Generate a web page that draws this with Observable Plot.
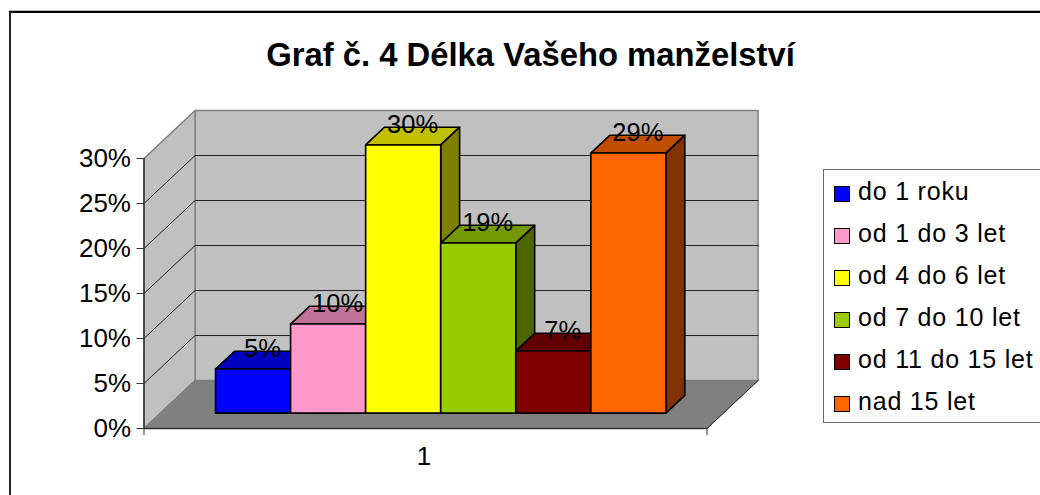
<!DOCTYPE html>
<html><head><meta charset="utf-8">
<script src="https://cdn.jsdelivr.net/npm/d3@7"></script>
<script src="https://cdn.jsdelivr.net/npm/@observablehq/plot@0.6"></script>
<style>
html,body{margin:0;padding:0;background:#fff;}
#chart{position:relative;width:1040px;height:495px;overflow:hidden;font-family:"Liberation Sans",Arial,sans-serif;color:#000;}
#frame{position:absolute;left:9px;top:11px;width:1100px;height:560px;border-left:2px solid #222;border-top:2px solid #000;box-shadow:0 -1px 0 #bbb;box-sizing:border-box;}
#title{position:absolute;left:0;top:38px;width:1061px;text-align:center;font-weight:bold;font-size:32.8px;line-height:34px;}
#legend{position:absolute;left:823px;top:169px;width:260px;height:254px;border:1.5px solid #666;box-sizing:border-box;}
.row{position:absolute;left:0;height:42px;font-size:25px;line-height:42px;white-space:nowrap;}
.sw{position:absolute;left:10px;top:15px;width:15.5px;height:15.5px;border:1.5px solid #000;box-sizing:border-box;}
.lb{position:absolute;left:34px;top:-1px;letter-spacing:0.8px;}
svg{position:absolute;left:0;top:0;}
</style></head>
<body><div id="chart"><div id="frame"></div><div id="title"></div><div id="legend"></div></div>
<script>
const chartTitle = "Graf č. 4 Délka Vašeho manželství";
const categories = ["do 1 roku","od 1 do 3 let","od 4 do 6 let","od 7 do 10 let","od 11 do 15 let","nad 15 let"];
const values = [4.9,9.9,29.8,18.9,6.9,28.9];
const valueLabels = ["5%","10%","30%","19%","7%","29%"];
const frontColors = ["#0000ff","#ff99cc","#ffff00","#99cc00","#800000","#ff6600"];
const topColors = ["#0000c0","#c07399","#c0c000","#739900","#600000","#c04d00"];
const sideColors = ["#000080","#804d66","#808000","#4d6600","#400000","#803300"];
const yTicks = [0,5,10,15,20,25,30];
const xLabel = "1";

const gap = 0.735, xMax = 7.5, yMax = 30;
const depthX = 0.68, depthY = 5.33;
const barD0 = 0.32, barD1 = 0.69;
const P = (u,v,d) => ({x:u + d*depthX, y:v + d*depthY});
const poly = (pts, fill, stroke, sw) => Plot.line(pts, {x:"x", y:"y", curve:"linear-closed", fill, stroke, strokeWidth:sw});
const path = (pts, stroke, sw) => Plot.line(pts, {x:"x", y:"y", stroke, strokeWidth:sw});

const marks = [
  poly([P(0,0,1),P(xMax,0,1),P(xMax,yMax,1),P(0,yMax,1)], "#c0c0c0", "#808080", 1.5),
  poly([P(0,0,0),P(0,0,1),P(0,yMax,1),P(0,yMax,0)], "#c0c0c0", "#808080", 1.5),
  poly([P(0,0,0),P(xMax,0,0),P(xMax,0,1),P(0,0,1)], "#808080", "#808080", 1)
];
for (const t of yTicks.slice(1,-1)) marks.push(path([P(0,t,0),P(0,t,1),P(xMax,t,1)], "#222", 1));
marks.push(path([P(xMax,0,0),P(xMax,0,1)], "#222", 1));
marks.push(path([P(0,0,0),P(xMax,0,0)], "#333", 1.5));

values.forEach((v,i) => {
  const u0 = gap + i, u1 = u0 + 1;
  marks.push(poly([P(u0,v,barD0),P(u1,v,barD0),P(u1,v,barD1),P(u0,v,barD1)], topColors[i], "#000", 1.6));
  marks.push(poly([P(u1,0,barD0),P(u1,0,barD1),P(u1,v,barD1),P(u1,v,barD0)], sideColors[i], "#000", 1.6));
  marks.push(poly([P(u0,0,barD0),P(u1,0,barD0),P(u1,v,barD0),P(u0,v,barD0)], frontColors[i], "#000", 1.6));
});

const labelData = values.map((v,i)=>({...P(gap+i+0.5,v,(barD0+barD1)/2), t:valueLabels[i]}));
marks.push(Plot.text(labelData,{x:"x",y:"y",text:"t",dy:-11,fontSize:25.5,fill:"#000",textAnchor:"middle"}));
marks.push(Plot.axisY({ticks:yTicks,tickFormat:d=>d+"%",tickSize:7,tickPadding:6,fontSize:26,label:null,stroke:"#333",tickStrokeWidth:1}));
marks.push(Plot.ruleX([0],{y1:0,y2:yMax,stroke:"#333",strokeWidth:1.5}));
marks.push(Plot.axisX({ticks:[0,xMax],tickFormat:()=>"",tickSize:7,label:null,stroke:"#333"}));
marks.push(Plot.text([xLabel],{x:xMax/2,y:0,text:d=>d,dy:28,dx:-1.5,fontSize:26,fill:"#000",textAnchor:"middle"}));

const plot = Plot.plot({
  width:1040,height:495,
  marginLeft:143.5,marginRight:333.5,marginTop:158,marginBottom:67,
  x:{domain:[0,xMax],axis:null},
  y:{domain:[0,yMax],axis:null},
  style:{background:"transparent",fontFamily:"'Liberation Sans',Arial,sans-serif",overflow:"visible"},
  marks
});
document.getElementById("chart").appendChild(plot);
document.getElementById("title").textContent = chartTitle;
const lg = document.getElementById("legend");
categories.forEach((c,i)=>{
  const r = document.createElement("div"); r.className="row"; r.style.top=(i*42+1)+"px";
  r.innerHTML = `<span class="sw" style="background:${frontColors[i]}"></span><span class="lb">${c}</span>`;
  lg.appendChild(r);
});
</script></body></html>
